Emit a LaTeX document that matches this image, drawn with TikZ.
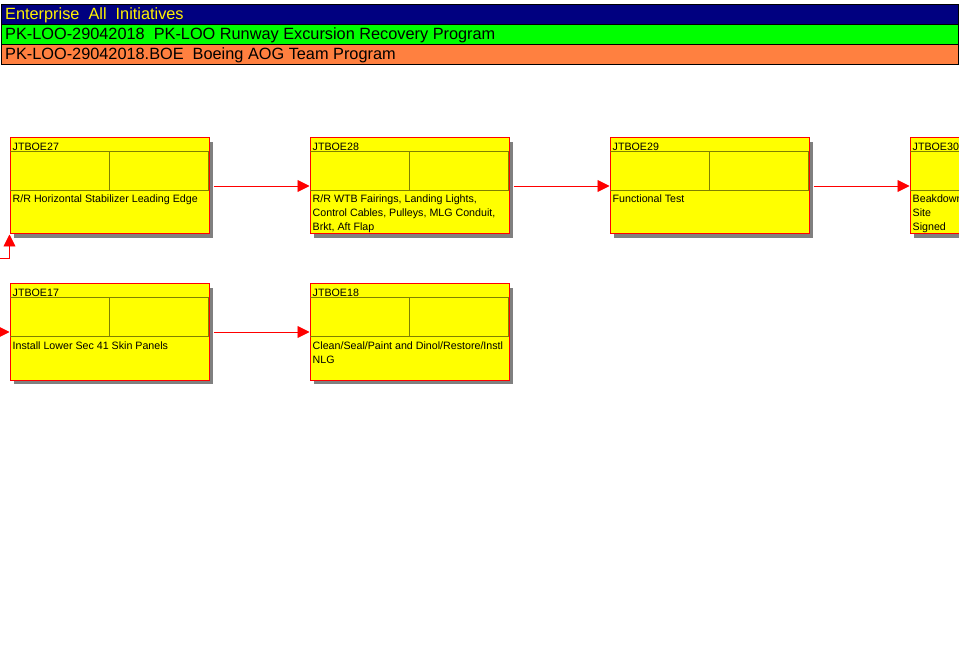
\documentclass[tikz,border=0pt]{standalone}
\usepackage{fontspec}
\setmainfont{Liberation Sans}
\usetikzlibrary{arrows.meta,shadows}
\definecolor{barnavy}{HTML}{000080}
\definecolor{bargreen}{HTML}{00FF00}
\definecolor{barorange}{HTML}{FF8040}
\definecolor{taskyellow}{HTML}{FFFF00}
\definecolor{taskred}{HTML}{FF0000}
\definecolor{cellolive}{HTML}{808000}
\definecolor{shadowgray}{HTML}{808080}

\tikzset{
  headerbar/.style={draw=black, line width=0.8pt},
  headertext/.style={anchor=base west, inner sep=0pt, font=\fontsize{16.3}{18}\selectfont},
  taskframe/.style={rectangle, draw=taskred, fill=taskyellow, line width=1pt,
    minimum width=199pt, minimum height=96pt, inner sep=0pt,
    drop shadow={shadow xshift=4pt, shadow yshift=-4pt, fill=shadowgray, opacity=1}},
  cellline/.style={draw=cellolive, line width=0.8pt},
  taskid/.style={anchor=base west, inner sep=0pt, font=\fontsize{10.67}{14}\selectfont},
  taskdesc/.style={anchor=north west, inner sep=0pt, align=left,
    font=\fontsize{10.67}{14}\selectfont},
  flow/.style={draw=taskred, line width=0.9pt, -{Triangle[length=12pt,width=12pt]}},
}

% name, x, y, id, description (first line top fixed by an 8pt strut)
\newcommand\taskbox[5]{%
  \node[taskframe] (#1) at (#2,#3) {};
  \draw[cellline] ([shift={(0.5,14)}]#1.north west) -- ([shift={(-0.5,14)}]#1.north east);
  \draw[cellline] ([shift={(0.5,53)}]#1.north west) -- ([shift={(-0.5,53)}]#1.north east);
  \draw[cellline] ([shift={(100,14)}]#1.north west) -- ([shift={(100,53)}]#1.north west);
  \draw[cellline] ([shift={(-0.9,14)}]#1.north east) -- ([shift={(-0.9,53)}]#1.north east);
  \node[taskid] (#1id) at ([shift={(3,12.7)}]#1.north west) {#4};
  \node[taskdesc] (#1desc) at ([shift={(3,57.3)}]#1.north west) {\rule{0pt}{8pt}#5};
}

\begin{document}
\begin{tikzpicture}[x=1pt, y=-1pt]
  \useasboundingbox[fill=white] (0,0) rectangle (959,647);
  \clip (0,0) rectangle (959,647);

  % programme header bars
  \fill[barnavy] (1,4.5) rectangle (958.5,24.5);
  \fill[bargreen] (1,24.5) rectangle (958.5,44.5);
  \fill[barorange] (1,44.5) rectangle (958.5,64.5);
  \draw[headerbar] (1,4.5) rectangle (958.5,24.5);
  \draw[headerbar] (1,24.5) rectangle (958.5,44.5);
  \draw[headerbar] (1,44.5) rectangle (958.5,64.5);
  \node[headertext, text=yellow] (hdr1) at (5,20) {Enterprise\ \ All\ \ Initiatives};
  \node[headertext] (hdr2) at (5,40) {PK-LOO-29042018\ \ PK-LOO Runway Excursion Recovery Program};
  \node[headertext] (hdr3) at (5,60) {PK-LOO-29042018.BOE\ \ Boeing AOG Team Program};

  % task boxes
  \taskbox{b27}{109.5}{186}{JTBOE27}{R/R Horizontal Stabilizer Leading Edge}
  \taskbox{b28}{409.5}{186}{JTBOE28}{R/R WTB Fairings, Landing Lights,\\Control Cables, Pulleys, MLG Conduit,\\Brkt, Aft Flap}
  \taskbox{b29}{709.5}{186}{JTBOE29}{Functional Test}
  \taskbox{b30}{1009.5}{186}{JTBOE30}{Beakdown\\Site\\Signed}
  \taskbox{b17}{109.5}{332}{JTBOE17}{Install Lower Sec 41 Skin Panels}
  \taskbox{b18}{409.5}{332}{JTBOE18}{Clean/Seal/Paint and Dinol/Restore/Instl\\NLG}

  % dependencies
  \coordinate (in27) at (0,258);
  \coordinate (in17) at (0,332);
  \draw[flow] (in27) -| (b27.south west);
  \draw[flow] (in17) -- (b17);
  \draw[flow, shorten <=4pt] (b27) -- (b28);
  \draw[flow, shorten <=4pt] (b28) -- (b29);
  \draw[flow, shorten <=4pt] (b29) -- (b30);
  \draw[flow, shorten <=4pt] (b17) -- (b18);
\end{tikzpicture}
\end{document}
